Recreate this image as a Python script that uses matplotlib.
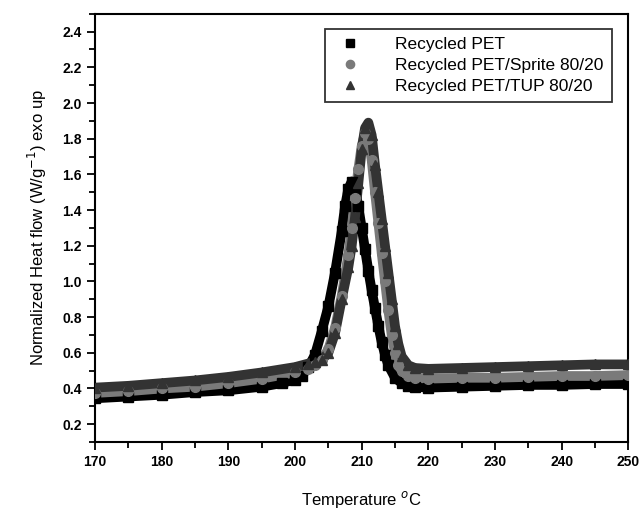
import matplotlib.pyplot as plt
from matplotlib.ticker import MultipleLocator

# Temperature (deg C) and normalized heat flow.
pet_t = [170, 175, 180, 185, 190, 195, 198, 200, 201, 202, 203, 204, 205, 206, 207,
         207.5, 208, 208.5, 209, 209.5, 210, 210.5, 211, 211.5, 212, 212.5, 213,
         213.5, 214, 215, 216, 217, 218, 220, 225, 230, 235, 240, 245, 250]
pet_q = [0.345, 0.355, 0.365, 0.38, 0.39, 0.41, 0.43, 0.45, 0.47, 0.52, 0.59, 0.72,
         0.86, 1.05, 1.28, 1.42, 1.52, 1.56, 1.52, 1.42, 1.30, 1.18, 1.06, 0.95,
         0.85, 0.75, 0.66, 0.59, 0.53, 0.46, 0.43, 0.415, 0.41, 0.405, 0.41, 0.415,
         0.42, 0.42, 0.425, 0.425]

sprite_t = [170, 175, 180, 185, 190, 195, 200, 202, 203, 204, 205, 206, 207, 208,
            208.5, 209, 209.5, 210, 210.5, 211, 211.5, 212, 212.5, 213, 213.5, 214,
            214.5, 215, 215.5, 216, 217, 218, 220, 225, 230, 235, 240, 245, 250]
sprite_q = [0.375, 0.385, 0.40, 0.41, 0.43, 0.455, 0.49, 0.51, 0.53, 0.56, 0.62,
            0.74, 0.92, 1.15, 1.30, 1.47, 1.63, 1.76, 1.83, 1.80, 1.68, 1.50, 1.33,
            1.16, 1.00, 0.84, 0.70, 0.60, 0.53, 0.50, 0.47, 0.46, 0.455, 0.46, 0.46,
            0.465, 0.47, 0.47, 0.475]

tup_t = [170, 175, 180, 185, 190, 195, 200, 202, 203, 204, 205, 206, 207, 208,
         208.5, 209, 209.5, 210, 210.5, 211, 211.5, 212, 212.5, 213, 213.5, 214,
         214.5, 215, 215.5, 216, 217, 218, 220, 225, 230, 235, 240, 245, 250]
tup_q = [0.405, 0.415, 0.43, 0.445, 0.465, 0.49, 0.52, 0.54, 0.55, 0.56, 0.60,
         0.71, 0.90, 1.08, 1.20, 1.36, 1.55, 1.74, 1.86, 1.89, 1.82, 1.65, 1.50,
         1.35, 1.20, 1.05, 0.90, 0.75, 0.65, 0.58, 0.53, 0.515, 0.51, 0.515, 0.52,
         0.525, 0.53, 0.535, 0.535]

plt.rcParams['font.family'] = ['Liberation Sans', 'DejaVu Sans']

fig = plt.figure(figsize=(6.43, 5.11), dpi=100)
ax = fig.add_axes([0.148, 0.135, 0.829, 0.838])

# Thick lines under the markers give the dense-marker band look.
series = [
    (pet_t, pet_q, '#000000', 's', 'Recycled PET'),
    (sprite_t, sprite_q, '#7a7a7a', 'o', 'Recycled PET/Sprite 80/20'),
    (tup_t, tup_q, '#333333', '^', 'Recycled PET/TUP 80/20'),
]
for t, q, c, m, lab in series:
    ax.plot(t, q, color=c, lw=7, solid_capstyle='butt', zorder=2)
    ax.plot(t, q, color=c, lw=0, marker=m, markersize=7, label=lab, zorder=3)

ax.set_xlim(170, 250)
ax.set_ylim(0.1, 2.5)
ax.xaxis.set_major_locator(MultipleLocator(10))
ax.xaxis.set_minor_locator(MultipleLocator(5))
ax.yaxis.set_minor_locator(MultipleLocator(0.1))
ax.set_yticks([0.2, 0.4, 0.6, 0.8, 1.0, 1.2, 1.4, 1.6, 1.8, 2.0, 2.2, 2.4])
ax.tick_params(which='major', direction='out', length=6, width=1.3,
               labelsize=10, top=False, right=False)
ax.tick_params(which='minor', direction='out', length=4, width=1.3,
               top=False, right=False)
for lbl in ax.get_xticklabels() + ax.get_yticklabels():
    lbl.set_fontweight('bold')
for s in ax.spines.values():
    s.set_linewidth(1.5)

ax.set_xlabel('Temperature $^{o}$C', fontsize=12, labelpad=14)
ax.set_ylabel('Normalized Heat flow (W/g$^{-1}$) exo up', fontsize=12, labelpad=10)

leg = ax.legend(loc='upper right', bbox_to_anchor=(0.985, 0.985), fontsize=12.5,
                frameon=True, fancybox=False, edgecolor='black', borderpad=0.45,
                handletextpad=1.6, labelspacing=0.35, markerscale=0.85)
leg.get_frame().set_linewidth(1.3)

fig.savefig('out.png', dpi=100)
